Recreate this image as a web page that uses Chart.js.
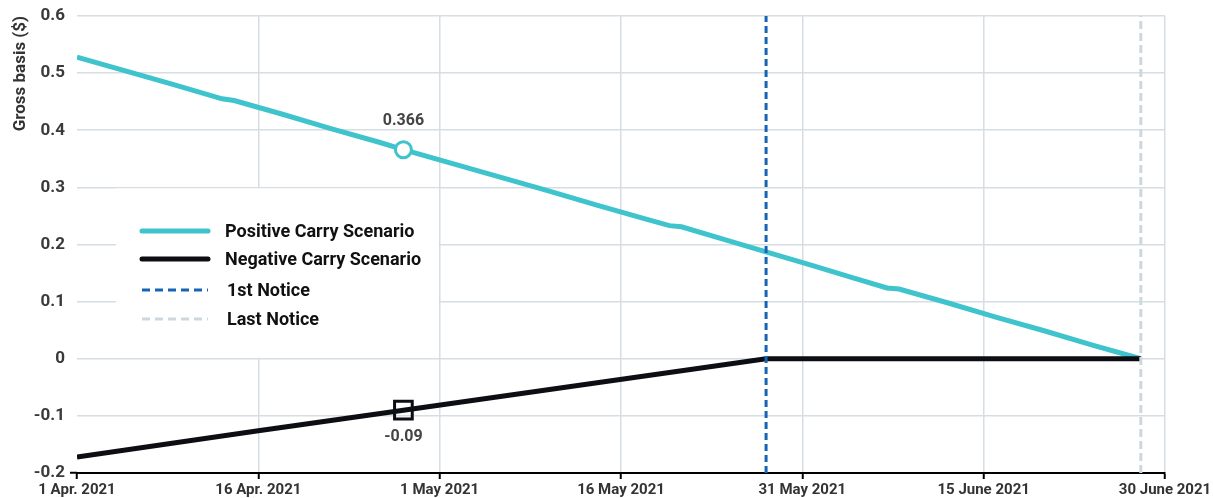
<!DOCTYPE html>
<html>
<head>
<meta charset="utf-8">
<script src="https://cdn.jsdelivr.net/npm/chart.js@4"></script>
<style>
  body { margin: 0; background: #fff; }
  #wrap { width: 1213px; height: 498px; }
</style>
</head>
<body>
<div id="wrap"><canvas id="basisChart" width="1213" height="498"></canvas></div>
<script>
// days counted from 1 Apr. 2021
const xTickDays = [0, 15, 30, 45, 60, 75, 90];
const xTickLabels = ['1 Apr. 2021', '16 Apr. 2021', '1 May 2021', '16 May 2021', '31 May 2021', '15 June 2021', '30 June 2021'];

const positiveDays = [0, 4, 8, 12, 13, 17, 21, 25, 27, 31, 35, 39, 43, 47, 49, 50, 54, 57, 61, 64, 67, 68, 72, 76, 80, 84, 88];
const positiveValues = [0.528, 0.504, 0.480, 0.455, 0.452, 0.428, 0.403, 0.379, 0.366, 0.342, 0.318, 0.294, 0.269, 0.245, 0.233, 0.231, 0.206, 0.187, 0.162, 0.143, 0.124, 0.122, 0.098, 0.073, 0.049, 0.024, 0.000];

const negativeDays = [0, 15, 27, 57, 88];
const negativeValues = [-0.172, -0.126, -0.09, 0, 0];

const firstNoticeDay = 57;
const lastNoticeDay = 88;
const markerDay = 27;
const markerLabels = ['0.366', '-0.09'];

const legendLabels = ['Positive Carry Scenario', 'Negative Carry Scenario', '1st Notice', 'Last Notice'];

const yMin = -0.2;
const yMax = 0.6;

const TEAL = '#3fc3cc';
const BLACK = '#0d0d14';
const BLUE = '#1565b4';
const PALE = '#cdd8de';
const GRID = '#d6dee3';
const FONT = 'Roboto, "DejaVu Sans", sans-serif';

const toPoints = (days, values) => days.map((d, i) => ({ x: d, y: values[i] }));

const extras = {
  id: 'extras',
  beforeDatasetsDraw(chart) {
    const { ctx } = chart;
    const x = chart.scales.x, y = chart.scales.y;
    ctx.save();
    // white panel behind the legend
    const left = 116, right = x.getPixelForValue(30) - 1;
    const top = y.getPixelForValue(0.3) + 1, bottom = y.getPixelForValue(0) - 1;
    ctx.fillStyle = '#fff';
    ctx.fillRect(left, top, right - left, bottom - top);

    const rows = [231, 259, 290, 319];
    const styles = [
      { color: TEAL, width: 5, dash: [] },
      { color: BLACK, width: 5, dash: [] },
      { color: BLUE, width: 3, dash: [8, 5] },
      { color: PALE, width: 3, dash: [8, 5] }
    ];
    ctx.font = 'bold 18px ' + FONT;
    ctx.textBaseline = 'middle';
    ctx.textAlign = 'left';
    legendLabels.forEach((label, i) => {
      const s = styles[i];
      ctx.strokeStyle = s.color;
      ctx.lineWidth = s.width;
      ctx.lineCap = s.dash.length ? 'butt' : 'round';
      ctx.setLineDash(s.dash);
      ctx.beginPath();
      ctx.moveTo(142, rows[i]);
      ctx.lineTo(208, rows[i]);
      ctx.stroke();
      ctx.fillStyle = '#111';
      ctx.fillText(label, i < 2 ? 225 : 227, rows[i] + 1);
    });
    ctx.restore();
  },
  afterDatasetsDraw(chart) {
    const { ctx } = chart;
    const x = chart.scales.x, y = chart.scales.y;
    const idxPos = positiveDays.indexOf(markerDay);
    const idxNeg = negativeDays.indexOf(markerDay);
    const px = x.getPixelForValue(markerDay);
    ctx.save();
    ctx.font = 'bold 16px ' + FONT;
    ctx.fillStyle = '#444';
    ctx.textAlign = 'center';
    ctx.textBaseline = 'middle';
    ctx.fillText(markerLabels[0], px, y.getPixelForValue(positiveValues[idxPos]) - 29);
    ctx.fillText(markerLabels[1], px, y.getPixelForValue(negativeValues[idxNeg]) + 27);
    ctx.restore();
  }
};

new Chart(document.getElementById('basisChart'), {
  type: 'line',
  data: {
    datasets: [
      {
        label: '1st Notice',
        data: toPoints([firstNoticeDay, firstNoticeDay], [yMin, yMax]),
        borderColor: BLUE,
        borderWidth: 3,
        borderDash: [7, 4],
        pointRadius: 0,
        order: 0
      },
      {
        label: 'Last Notice',
        data: toPoints([lastNoticeDay, lastNoticeDay], [yMin, yMax]),
        borderColor: PALE,
        borderWidth: 3,
        borderDash: [8, 4],
        pointRadius: 0,
        order: 0
      },
      {
        label: 'Positive Carry Scenario',
        data: toPoints(positiveDays, positiveValues),
        borderColor: TEAL,
        borderWidth: 5,
        tension: 0,
        pointStyle: 'circle',
        pointRadius: ctx => ctx.raw && ctx.raw.x === markerDay ? 8 : 0,
        pointBorderWidth: 3,
        pointBorderColor: TEAL,
        pointBackgroundColor: '#fff',
        order: 2
      },
      {
        label: 'Negative Carry Scenario',
        data: toPoints(negativeDays, negativeValues),
        borderColor: BLACK,
        borderWidth: 5,
        tension: 0,
        pointStyle: 'rect',
        pointRadius: ctx => ctx.raw && ctx.raw.x === markerDay ? 12.5 : 0,
        pointBorderWidth: 3,
        pointBorderColor: BLACK,
        pointBackgroundColor: 'rgba(0,0,0,0)',
        order: 1
      }
    ]
  },
  options: {
    responsive: false,
    animation: false,
    layout: { padding: { top: 16, right: 48, left: 0, bottom: 0 } },
    plugins: {
      legend: { display: false },
      tooltip: { enabled: false }
    },
    scales: {
      x: {
        type: 'linear',
        min: 0,
        max: 90,
        afterBuildTicks: scale => { scale.ticks = xTickDays.map(v => ({ value: v })); },
        afterFit: scale => { scale.height = 25; scale.paddingRight = 0; scale.paddingLeft = 0; },
        ticks: {
          autoSkip: false,
          maxRotation: 0,
          padding: 2,
          color: '#333',
          font: { family: FONT, size: 15, weight: 'bold' },
          callback: (v) => xTickLabels[xTickDays.indexOf(v)]
        },
        grid: {
          color: ctx => ctx.index === 0 ? 'rgba(0,0,0,0)' : GRID,
          lineWidth: 1.5,
          tickColor: '#000',
          tickLength: 6,
          tickWidth: 2
        },
        border: { display: true, color: '#000', width: 2 }
      },
      y: {
        min: yMin,
        max: yMax,
        afterFit: scale => { scale.width = 77; },
        ticks: {
          stepSize: 0.1,
          padding: 5,
          color: '#3a3a3a',
          font: { family: FONT, size: 17, weight: 'bold' },
          callback: v => String(Number(v.toFixed(1)))
        },
        grid: {
          color: GRID,
          lineWidth: 1.5,
          tickLength: 7,
          tickWidth: 2,
          tickColor: ctx => ctx.index === 0 ? '#000' : 'rgba(0,0,0,0)'
        },
        border: { display: false },
        title: {
          display: true,
          text: 'Gross basis ($)',
          align: 'end',
          color: '#333',
          padding: { top: 11, bottom: 0 },
          font: { family: FONT, size: 17, weight: 'bold' }
        }
      }
    }
  },
  plugins: [extras]
});
</script>
</body>
</html>
